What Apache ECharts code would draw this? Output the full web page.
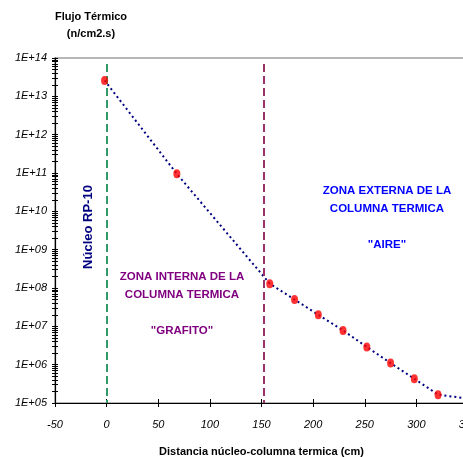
<!DOCTYPE html>
<html><head><meta charset="utf-8">
<script src="https://cdn.jsdelivr.net/npm/echarts@6/dist/echarts.min.js"></script>
<style>html,body{margin:0;padding:0;background:#fff}#c{width:463px;height:457px}</style>
</head><body><div id="c"></div>
<script>
// ---- data ----
const distances = [-2, 68, 158, 182, 205, 229, 252, 275, 298, 321];
const flux = [2.6e13, 9.5e10, 1.3e8, 5.0e7, 2.0e7, 7.8e6, 2.9e6, 1.1e6, 4.3e5, 1.65e5];
const trendTail = [[350, 1.3e5]];
const yMajorTicks = [1e5, 1e6, 1e7, 1e8, 1e9, 1e10, 1e11, 1e12, 1e13, 1e14];
const yMinorMultipliers = [2, 3, 4, 5, 6, 7, 8, 9];
const xMin = -50, xMax = 350, xStep = 50;
const coreX = 0;
const graphiteEndX = 152;
const lineTop = 7e13;

const yAllTicks = yMajorTicks.slice();
yMajorTicks.slice(0, -1).forEach(d => yMinorMultipliers.forEach(m => yAllTicks.push(m * d)));

const FF = '"Liberation Sans", Arial, sans-serif';
const chart = echarts.init(document.getElementById('c'), null, {renderer: 'canvas'});

const yFmt = v => { const n = Math.round(Math.log10(v)); return '1E+' + (n < 10 ? '0' + n : n); };

const option = {
  animation: false,
  grid: {left: 55, right: -5, top: 58, bottom: 54, outerBoundsMode: 'none', containLabel: false, show: true, borderColor: '#a0a0a0', borderWidth: 1.5, backgroundColor: 'transparent'},
  xAxis: [{
    type: 'value', min: xMin, max: xMax, interval: xStep,
    axisLine: {onZero: false, lineStyle: {color: '#000', width: 1.2}},
    axisTick: {length: 4, lineStyle: {color: '#000'}},
    axisLabel: {margin: 16, fontStyle: 'italic', fontSize: 11, color: '#000', fontFamily: FF},
    splitLine: {show: false},
    name: 'Distancia núcleo-columna termica (cm)', nameLocation: 'middle', nameGap: 43,
    nameTextStyle: {fontWeight: 'bold', fontSize: 11, color: '#000', fontFamily: FF}
  }, {
    type: 'value', min: xMin, max: xMax, interval: xStep, position: 'bottom', offset: 0,
    axisLine: {show: false, onZero: false}, axisTick: {inside: true, length: 4, lineStyle: {color: '#000'}},
    axisLabel: {show: false}, splitLine: {show: false}
  }],
  yAxis: [{
    type: 'log', logBase: 10, min: 1e5, max: 1e14,
    axisLine: {show: true, onZero: false, lineStyle: {color: '#000', width: 1.2}},
    axisTick: {show: true, length: 3, customValues: yAllTicks, lineStyle: {color: '#000'}},
    axisLabel: {customValues: yMajorTicks, formatter: yFmt, margin: 8, fontStyle: 'italic', fontSize: 11, color: '#000', fontFamily: FF},
    splitLine: {show: false}, minorTick: {show: false}
  }, {
    type: 'log', logBase: 10, min: 1e5, max: 1e14, position: 'left', offset: 0,
    axisLine: {show: false, onZero: false},
    axisTick: {show: true, inside: true, length: 3, customValues: yAllTicks, lineStyle: {color: '#000'}},
    axisLabel: {show: false}, splitLine: {show: false}
  }],
  series: [{
    type: 'line', xAxisIndex: 0, yAxisIndex: 0,
    data: distances.map((x, i) => [x, flux[i]]).concat(trendTail),
    showSymbol: false, symbol: 'none',
    lineStyle: {color: '#000080', width: 2, type: [2, 3]},
    z: 2,
    markLine: {
      silent: true, symbol: ['none', 'none'], label: {show: false},
      lineStyle: {type: [8, 4], width: 2},
      data: [
        [{coord: [coreX, lineTop], lineStyle: {color: '#339966', type: [8, 4], width: 2}}, {coord: [coreX, 1e5]}],
        [{coord: [graphiteEndX, lineTop], lineStyle: {color: '#993366', type: [8, 4], width: 2}}, {coord: [graphiteEndX, 1e5]}]
      ]
    }
  }, {
    type: 'scatter', xAxisIndex: 0, yAxisIndex: 0,
    data: distances.map((x, i) => [x, flux[i]]),
    symbol: 'circle', symbolSize: [7, 9],
    itemStyle: {color: '#FF0000'}, z: 5
  }],
  graphic: [
    {type: 'text', x: 91, y: 8, style: {text: 'Flujo Térmico\n(n/cm2.s)', font: 'bold 11px ' + FF, fill: '#000', align: 'center', verticalAlign: 'top', lineHeight: 17}},
    {type: 'text', x: 88, y: 227, rotation: Math.PI / 2, style: {text: 'Núcleo RP-10', font: 'bold 13px ' + FF, fill: '#000080', align: 'center', verticalAlign: 'middle'}},
    {type: 'text', x: 182, y: 268, style: {text: 'ZONA INTERNA DE LA\nCOLUMNA TERMICA\n\n"GRAFITO"', font: 'bold 11.5px ' + FF, fill: '#800080', align: 'center', verticalAlign: 'top', lineHeight: 18}},
    {type: 'text', x: 387, y: 182, style: {text: 'ZONA EXTERNA DE LA\nCOLUMNA TERMICA\n\n"AIRE"', font: 'bold 11.5px ' + FF, fill: '#0000FF', align: 'center', verticalAlign: 'top', lineHeight: 18}}
  ]
};
chart.setOption(option);
</script>
</body></html>
